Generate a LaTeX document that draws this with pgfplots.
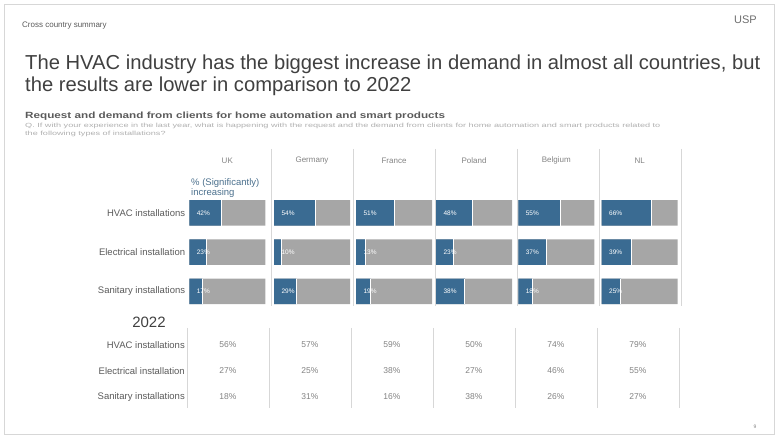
\documentclass[border=0pt]{standalone}
\usepackage{fontspec}
\setmainfont{Liberation Sans}
\usepackage{graphicx}
\usepackage{pgfplots}
\pgfplotsset{compat=1.18}
\usepackage{pgfplotstable}

\definecolor{barblue}{RGB}{58,107,146}
\definecolor{bargray}{RGB}{166,166,166}
\definecolor{titlegray}{RGB}{64,64,64}
\definecolor{txt}{RGB}{90,90,90}
\definecolor{lighttxt}{RGB}{130,130,130}
\definecolor{qtxt}{RGB}{175,175,175}
\definecolor{sepline}{RGB}{215,215,215}

% 2023: share of (significantly) increasing demand
\pgfplotstableread{
row UK DE FR PL BE NL
1 42 54 51 48 55 66
2 23 10 13 23 37 39
3 17 29 19 38 18 25
}\tabA

% 2022 values
\pgfplotstableread{
row UK DE FR PL BE NL
1 56 57 59 50 74 79
2 27 25 38 27 46 55
3 18 31 16 38 26 27
}\tabB

\pgfplotsset{panel/.style={scale only axis, anchor=south west, width=76pt, height=117.75pt,
  xmin=0, xmax=100, ymin=0.5, ymax=3.5, y dir=reverse, axis line style={draw=none},
  xtick=\empty, ytick={1,2,3}, yticklabels={}, major tick length=0pt, clip=false,
  yticklabel style={font=\fontsize{9.5}{11}\selectfont, text=txt, inner sep=0pt, xshift=-4pt},
  title style={at={(0.5,1)}, anchor=center, yshift=27pt, font=\fontsize{8}{9}\selectfont, text=lighttxt}}}

\newcommand\panel[4]{%
\begin{axis}[panel, at={(#1pt,127.9pt)}, title={#3}, #4]
\addplot[xbar, bar width=25.5pt, bar shift=0pt, fill=bargray, draw=none] table[x expr=100, y=row]{\tabA};
\addplot[xbar, bar width=25.5pt, bar shift=0pt, fill=barblue, draw=none] table[x=#2, y=row]{\tabA};
\addplot[only marks, mark=|, mark size=12.75pt, mark options={draw=white, line width=0.8pt}] table[x=#2, y=row]{\tabA};
\addplot[draw=none, mark=none, nodes near coords={\pgfplotspointmeta\%}, point meta=explicit symbolic,
  nodes near coords align={anchor=west},
  every node near coord/.append style={anchor=west, xshift=4pt, text=white, font=\fontsize{6.5}{7}\selectfont}]
  table[x expr=0, y=row, meta=#2]{\tabA};
\end{axis}}

\begin{document}
\begin{tikzpicture}
\path[use as bounding box] (0pt,0pt) rectangle (779pt,439pt);
\draw[sepline, line width=0.8pt] (4.5pt,4.5pt) rectangle (774.5pt,434.5pt);

\node[anchor=base west, inner sep=0pt, font=\fontsize{8}{9}\selectfont, text=txt] at (22pt,411pt) {Cross country summary};
\node[anchor=east, inner sep=0pt, font=\fontsize{11}{13}\selectfont, text=lighttxt!85!black] at (757pt,419pt) {USP};

\node[anchor=base west, inner sep=0pt, font=\fontsize{20.2}{23}\selectfont, text=titlegray] at (25pt,369pt) {The HVAC industry has the biggest increase in demand in almost all countries, but};
\node[anchor=base west, inner sep=0pt, font=\fontsize{20.2}{23}\selectfont, text=titlegray] at (25pt,347pt) {the results are lower in comparison to 2022};

\node[anchor=base west, inner sep=0pt, font=\bfseries\fontsize{9}{10}\selectfont, text=txt] at (25pt,320pt) {\scalebox{1.3}[1]{Request and demand from clients for home automation and smart products}};
\node[anchor=base west, inner sep=0pt, font=\fontsize{6}{7}\selectfont, text=qtxt] at (25pt,311pt) {\scalebox{1.52}[1]{Q. If with your experience in the last year, what is happening with the request and the demand from clients for home automation and smart products related to}};
\node[anchor=base west, inner sep=0pt, font=\fontsize{6}{7}\selectfont, text=qtxt] at (25pt,303.5pt) {\scalebox{1.52}[1]{the following types of installations?}};

\foreach \xx in {271.5,353,435,517,599,681}{
  \draw[sepline, line width=0.8pt] (\xx pt,290pt) -- (\xx pt,133pt);
}

\node[anchor=base west, inner sep=0pt, font=\fontsize{9.5}{11}\selectfont, text=barblue!75!gray] at (191pt,253pt) {\% (Significantly)};
\node[anchor=base west, inner sep=0pt, font=\fontsize{9.5}{11}\selectfont, text=barblue!75!gray] at (191pt,243pt) {increasing};

\panel{189.3}{UK}{UK}{yticklabels={HVAC installations,Electrical installation,Sanitary installations}}
\panel{274}{DE}{Germany}{}
\panel{356}{FR}{France}{}
\panel{436}{PL}{Poland}{}
\panel{518.3}{BE}{Belgium}{}
\panel{601.7}{NL}{NL}{}

\node[font=\fontsize{15}{17}\selectfont, text=titlegray] at (149pt,117pt) {2022};

\begin{axis}[scale only axis, anchor=south west, at={(187pt,31pt)}, width=492pt, height=80pt,
  xmin=0.5, xmax=6.5, ymin=0.35, ymax=3.42, y dir=reverse, axis line style={draw=none},
  xtick={0.5,1.5,...,6.5}, xticklabels={}, xmajorgrids, grid style={sepline, line width=0.8pt},
  ytick={1,2,3}, yticklabels={HVAC installations,Electrical installation,Sanitary installations},
  yticklabel style={font=\fontsize{9.5}{11}\selectfont, text=txt, inner sep=0pt, xshift=-2pt},
  major tick length=0pt, clip=false,
  nodes near coords={\pgfplotspointmeta\%}, point meta=explicit symbolic,
  nodes near coords align={anchor=center},
  every node near coord/.append style={anchor=center, font=\fontsize{8.5}{10}\selectfont, text=lighttxt}]
\addplot[draw=none, mark=none] table[x expr=1, y=row, meta=UK]{\tabB};
\addplot[draw=none, mark=none] table[x expr=2, y=row, meta=DE]{\tabB};
\addplot[draw=none, mark=none] table[x expr=3, y=row, meta=FR]{\tabB};
\addplot[draw=none, mark=none] table[x expr=4, y=row, meta=PL]{\tabB};
\addplot[draw=none, mark=none] table[x expr=5, y=row, meta=BE]{\tabB};
\addplot[draw=none, mark=none] table[x expr=6, y=row, meta=NL]{\tabB};
\end{axis}

\node[font=\fontsize{5}{6}\selectfont, text=lighttxt] at (755pt,12pt) {9};
\end{tikzpicture}
\end{document}
